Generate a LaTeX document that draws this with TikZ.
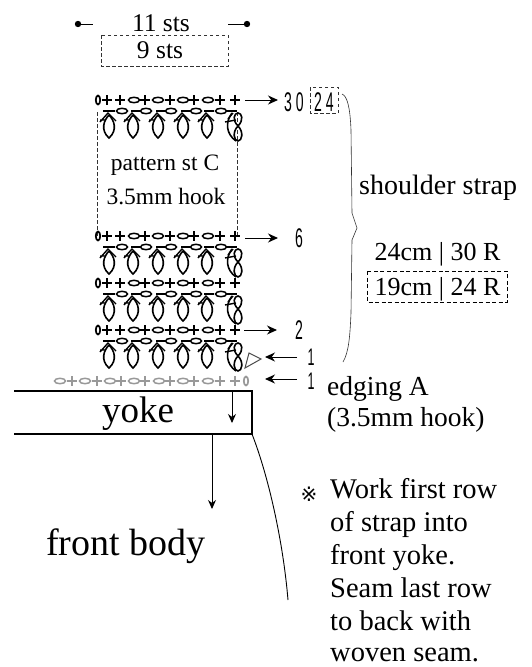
\documentclass[tikz,border=0pt]{standalone}
\usepackage{fontspec}
\setmainfont{Liberation Serif}
\newfontfamily\narrowfont{Liberation Sans}
\usetikzlibrary{arrows.meta}
\tikzset{
  x=1pt,y=-1pt,
  thinline/.style={line width=0.9pt,black},
  dashbox/.style={line width=0.6pt,dash pattern=on 3.5pt off 2.5pt,black!80},
  darkdash/.style={line width=0.9pt,dash pattern=on 4pt off 2.5pt,black},
  stline/.style={line width=1.6pt,black},
  lab/.style={inner sep=0pt,anchor=base,font=\fontsize{#1}{#1}\selectfont},
  labw/.style={inner sep=0pt,anchor=base west,font=\fontsize{#1}{#1}\selectfont},
  num/.style={inner sep=0pt,xscale=.52,font=\narrowfont\fontsize{#1}{#1}\selectfont},
  arr/.style={line width=1pt,-{Stealth[length=10pt,width=9pt]}},
  darr/.style={line width=.9pt,-{Stealth[length=9pt,width=8pt]}},
}
\newcommand{\plusst}[3][black]{\draw[line width=1.7pt,#1] (#2-5,#3)--(#2+5,#3) (#2,#3-5)--(#2,#3+5);}
\newcommand{\ovalst}[3][black]{\draw[line width=1.5pt,#1] (#2,#3) ellipse [x radius=5.5pt,y radius=2.7pt];}
\newcommand{\zerost}[3][black]{\draw[line width=1.7pt,#1] (#2,#3) ellipse [x radius=2.2pt,y radius=4.5pt];}
\newcommand{\loopst}[2]{%
  \draw[stline] (#1,#2+4) .. controls (#1-5,#2+9) and (#1-9,#2+19) .. (#1,#2+27) .. controls (#1+9,#2+19) and (#1+5,#2+9) .. (#1,#2+4);
  \draw[line width=1.4pt] (#1-9,#2+11) -- (#1-1,#2+2) -- (#1+7,#2+10) (#1-9,#2+9) -- (#1-3,#2+9);
}
\newcommand{\craw}[1]{% #1 = y of plus row
  \zerost{98}{#1}
  \foreach \x in {107,120,145,170,194,220,235} {\plusst{\x}{#1}}
  \foreach \x in {134,158,183,208} {\ovalst{\x}{#1}}
  \foreach \a/\b in {103/115,131/141,156/166,181/190,204/214,227/237} {\draw[line width=2.2pt] (\a,#1+11) -- (\b,#1+11);}
  \foreach \x in {122,146,171,196,221} {\ovalst{\x}{#1+11}}
  \foreach \x in {109,133,158,183,207} {\loopst{\x}{#1+11}}
  \draw[stline] (232,#1+13) .. controls (225,#1+22) and (226,#1+34) .. (236,#1+41);
  \draw[line width=1.4pt] (225,#1+22) -- (236,#1+20) (228,#1+19)--(233,#1+13);
  \draw[stline] (238,#1+26) .. controls (232,#1+20) and (234,#1+13) .. (238,#1+13) .. controls (242,#1+13) and (244,#1+20) .. (238,#1+26) .. controls (232,#1+32) and (234,#1+41) .. (238,#1+41) .. controls (242,#1+41) and (244,#1+32) .. (238,#1+26);
}
\begin{document}
\begin{tikzpicture}
\useasboundingbox (0,0) rectangle (531,667);
% top width labels
\node[lab=25.5] (w11) at (161,31) {11 sts};
\coordinate (d1a) at (78,24); \coordinate (d1b) at (93,24);
\coordinate (d2a) at (228,24); \coordinate (d2b) at (247,24);
\fill (d1a) circle[radius=3.2pt]; \draw[thinline] (d1a) -- (d1b);
\fill (d2b) circle[radius=3.2pt]; \draw[thinline] (d2a) -- (d2b);
\draw[dashbox] (101,35) rectangle (228,66);
\node[lab=25.5] (w9) at (160,58) {9 sts};
% pattern dashed box
\draw[dashbox] (97,112) -- (97,237) (237,112) -- (237,237);
\node[lab=23.5] (pat) at (165,170) {pattern st C};
\node[lab=23.5] (hook) at (166,204) {3.5mm hook};
% rows
\craw{100}\craw{236}\craw{283}\craw{330}
% foundation triangle
\draw[line width=1pt,black!70] (245,368) -- (249,353) -- (261,359) -- cycle;
% edging row
\foreach \x in {60,85,110,134,159,183,208} {\ovalst[black!40]{\x}{381}}
\foreach \x in {72,97,121,145,170,194,220,235} {\plusst[black!40]{\x}{381}}
\zerost[black!40]{246}{381}
% arrows and row numbers
\coordinate (a30a) at (245,100); \coordinate (a30b) at (278,100);
\draw[arr] (a30a) -- (a30b);
\node[num=27] (n30) at (294,102) {3 0};
\draw[dashbox] (310,87) rectangle (338,113);
\node[num=27] (n24) at (324,102) {2 4};
\coordinate (a6a) at (245,238); \coordinate (a6b) at (278,238);
\draw[arr] (a6a) -- (a6b);
\node[num=27] (n6) at (299,238) {6};
\coordinate (a2a) at (244,330); \coordinate (a2b) at (277,330);
\draw[arr] (a2a) -- (a2b);
\node[num=27] (n2) at (299,330) {2};
\coordinate (a1a) at (297,357); \coordinate (a1b) at (265,357);
\draw[arr] (a1a) -- (a1b);
\node[num=24] (n1) at (311,357) {1};
\coordinate (e1a) at (297,379); \coordinate (e1b) at (265,379);
\draw[arr] (e1a) -- (e1b);
\node[num=24] (ne) at (311,381) {1};
% brace
\coordinate (bt) at (342,94); \coordinate (bm) at (357,228); \coordinate (bb) at (343,362);
\draw[line width=0.6pt,black!80] (bt) .. controls (347,96) and (350,106) .. (351,130) -- (352,213) -- (bm) -- (352,240) -- (351,313) .. controls (350,335) and (349,352) .. (bb);
% right labels
\node[labw=28] (ss) at (359,194) {shoulder strap};
\node[lab=26] (c1) at (437.5,260) {24cm | 30 R};
\draw[darkdash] (367,271) rectangle (507,302);
\node[lab=26] (c2) at (437.5,295) {19cm | 24 R};
\node[labw=27.5] (ed) at (327,395) {edging A};
\node[labw=27.5] (ed2) at (327,426) {(3.5mm hook)};
% yoke
\coordinate (y1) at (14,391); \coordinate (y2) at (252,391); \coordinate (y3) at (252,434); \coordinate (y4) at (14,434);
\draw[line width=1.1pt] (y1) -- (y2) -- (y3) -- (y4);
\node[lab=37] (yoke) at (138,422) {yoke};
\coordinate (ya) at (232,391); \coordinate (yb) at (232,423);
\draw[darr] (ya) -- (yb);
\coordinate (ba) at (212,434); \coordinate (bb2) at (212,509);
\draw[darr] (ba) -- (bb2);
\coordinate (ca) at (288,600);
\draw[line width=.9pt] (y3) .. controls (268,475) and (283,540) .. (ca);
\node[lab=38] (fb) at (126,555) {front body};
% note
\node[inner sep=0pt] (nm) at (309,494) {\fontspec{DejaVu Sans}\fontsize{20}{20}\selectfont ※};
\foreach \t/\yy in {Work first row/498,of strap into/531,front yoke./564,Seam last row/597,to back with/630,woven seam./661} {
  \node[labw=28.5] at (330,\yy) {\t};
}
\end{tikzpicture}
\end{document}
